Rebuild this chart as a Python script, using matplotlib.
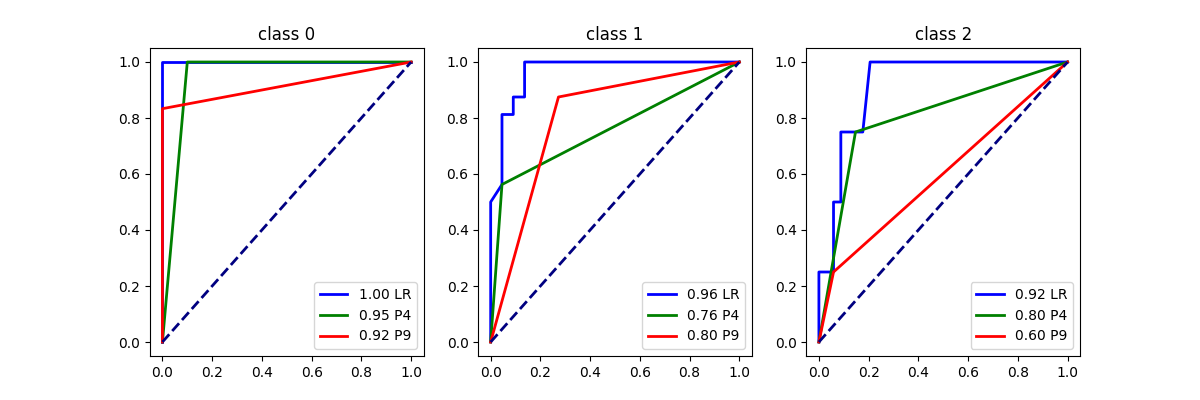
import numpy as np
import matplotlib
matplotlib.use("Agg")
import matplotlib.pyplot as plt

# ROC curve points, one list per class and model
class_names = ["class 0", "class 1", "class 2"]
model_names = ["LR", "P4", "P9"]
colors = ["blue", "green", "red"]

# class 0
fpr_lr_0 = [0.0, 0.0, 1.0]
tpr_lr_0 = [0.0, 1.0, 1.0]
fpr_p4_0 = [0.0, 0.1, 1.0]
tpr_p4_0 = [0.0, 1.0, 1.0]
fpr_p9_0 = [0.0, 0.0, 1.0]
tpr_p9_0 = [0.0, 0.8333, 1.0]

# class 1
fpr_lr_1 = [0.0, 0.0, 0.0455, 0.0455, 0.0909, 0.0909, 0.1364, 0.1364, 1.0]
tpr_lr_1 = [0.0, 0.5, 0.5625, 0.8125, 0.8125, 0.875, 0.875, 1.0, 1.0]
fpr_p4_1 = [0.0, 0.0455, 1.0]
tpr_p4_1 = [0.0, 0.5625, 1.0]
fpr_p9_1 = [0.0, 0.2727, 1.0]
tpr_p9_1 = [0.0, 0.875, 1.0]

# class 2
fpr_lr_2 = [0.0, 0.0, 0.0588, 0.0588, 0.0882, 0.0882, 0.1765, 0.2059, 1.0]
tpr_lr_2 = [0.0, 0.25, 0.25, 0.5, 0.5, 0.75, 0.75, 1.0, 1.0]
fpr_p4_2 = [0.0, 0.1471, 1.0]
tpr_p4_2 = [0.0, 0.75, 1.0]
fpr_p9_2 = [0.0, 0.0588, 1.0]
tpr_p9_2 = [0.0, 0.25, 1.0]

# AUC values shown in the legends
auc_0 = [1.00, 0.95, 0.92]
auc_1 = [0.96, 0.76, 0.80]
auc_2 = [0.92, 0.80, 0.60]

curves = [
    [(fpr_lr_0, tpr_lr_0), (fpr_p4_0, tpr_p4_0), (fpr_p9_0, tpr_p9_0)],
    [(fpr_lr_1, tpr_lr_1), (fpr_p4_1, tpr_p4_1), (fpr_p9_1, tpr_p9_1)],
    [(fpr_lr_2, tpr_lr_2), (fpr_p4_2, tpr_p4_2), (fpr_p9_2, tpr_p9_2)],
]
aucs = [auc_0, auc_1, auc_2]

fig, axes = plt.subplots(1, 3, figsize=(12, 4), dpi=100)
for k, ax in enumerate(axes):
    for (fpr, tpr), auc, name, c in zip(curves[k], aucs[k], model_names, colors):
        ax.plot(fpr, tpr, color=c, lw=2, label="%.2f %s" % (auc, name))
    ax.plot([0, 1], [0, 1], color="navy", lw=2, linestyle="--")
    ax.set_title(class_names[k])
    ax.legend(loc="lower right")

fig.savefig("out.png")
